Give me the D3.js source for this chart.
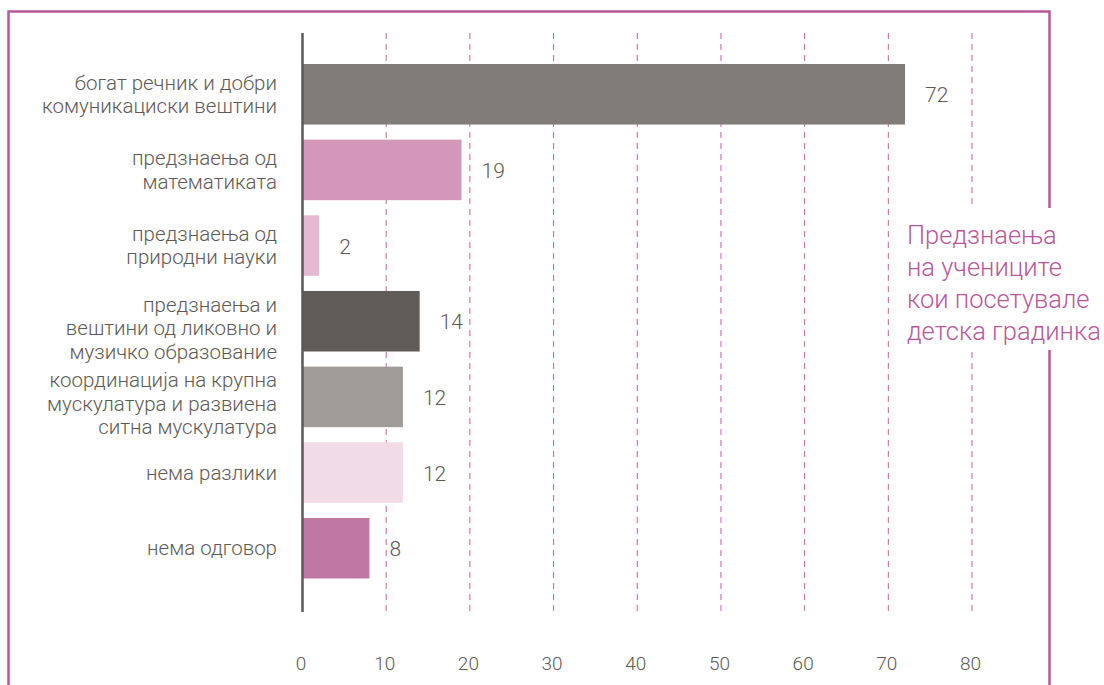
<!DOCTYPE html>
<html><head><meta charset="utf-8">
<script src="https://cdn.jsdelivr.net/npm/d3@7"></script>
<style>html,body{margin:0;padding:0;background:#fff;}svg{display:block;}</style>
</head><body>
<script>
const categories = [
  ["богат речник и добри","комуникациски вештини"],
  ["предзнаења од","математиката"],
  ["предзнаења од","природни науки"],
  ["предзнаења и","вештини од ликовно и","музичко образование"],
  ["координација на крупна","мускулатура и развиена","ситна мускулатура"],
  ["нема разлики"],
  ["нема одговор"]
];
const values = [72, 19, 2, 14, 12, 12, 8];
const barColors = ["#827c79","#d398b9","#e6b9d2","#625c58","#a29c99","#f1dbe7","#c177a4"];
const tickValues = [0,10,20,30,40,50,60,70,80];
const legendLines = ["Предзнаења","на учениците","кои посетувале","детска градинка"];

const W = 1104, H = 685;
const textColor = "#5f5955", pink = "#b8589b";
const font = "Roboto, 'Open Sans', sans-serif";

const svg = d3.select("body").append("svg").attr("width", W).attr("height", H);

// frame
svg.append("rect").attr("x", 8.5).attr("y", 11.5).attr("width", 1041).attr("height", 720)
  .attr("fill", "none").attr("stroke", pink).attr("stroke-width", 2.5);

const x = d3.scaleLinear().domain([0, 80]).range([302.5, 972]);
const ids = categories.map((c, i) => i);
const y = d3.scaleBand().domain(ids).range([64, 578.5]).paddingInner(0.2).paddingOuter(0);

const gTop = 33, gBot = 612;

// gridlines
svg.append("g").selectAll("line").data(tickValues.filter(t => t > 0)).join("line")
  .attr("x1", d => x(d)).attr("x2", d => x(d)).attr("y1", gTop).attr("y2", gBot)
  .attr("stroke", "#c4609f").attr("stroke-width", 1).attr("stroke-dasharray", "6,5");

// tick labels via axis
const axis = d3.axisBottom(x).tickValues(tickValues).tickSize(0).tickPadding(0).tickFormat(d3.format("d"));
const ag = svg.append("g").attr("transform", `translate(0,${670})`).call(axis);
ag.select(".domain").remove();
ag.selectAll("text").attr("dy", 0).attr("dx", -2).attr("fill", textColor)
  .style("font-family", font).style("font-size", "19px").style("font-weight", 300);

// bars
svg.append("g").selectAll("rect").data(values).join("rect")
  .attr("x", x(0)).attr("y", (d, i) => y(i)).attr("width", d => x(d) - x(0))
  .attr("height", y.bandwidth()).attr("fill", (d, i) => barColors[i]);

// value labels
svg.append("g").selectAll("text").data(values).join("text")
  .attr("x", d => x(d) + 20).attr("y", (d, i) => y(i) + y.bandwidth() / 2)
  .attr("dy", "0.38em").attr("fill", textColor)
  .style("font-family", font).style("font-size", "21px").style("font-weight", 300).text(d => d);

// category labels
const lh = 23.5;
const cg = svg.append("g");
categories.forEach((lines, i) => {
  const cy = y(i) + y.bandwidth() / 2;
  const n = lines.length;
  const t = cg.append("text").attr("text-anchor", "end").attr("fill", textColor)
    .style("font-family", font).style("font-size", "20.5px").style("font-weight", 300);
  lines.forEach((ln, j) => {
    t.append("tspan").attr("x", 277).attr("y", cy + (j - (n - 1) / 2) * lh + 7 + (n === 3 ? 7 : 0)).text(ln);
  });
});

// axis line
svg.append("line").attr("x1", x(0)).attr("x2", x(0)).attr("y1", gTop).attr("y2", gBot)
  .attr("stroke", textColor).attr("stroke-width", 2.5);

// legend
svg.append("rect").attr("x", 893).attr("y", 208).attr("width", 211).attr("height", 142).attr("fill", "#fff");
const lt = svg.append("text").attr("fill", pink).style("font-family", font).style("font-size", "25.5px").style("font-weight", 300);
legendLines.forEach((ln, j) => lt.append("tspan").attr("x", 907).attr("y", 244 + j * 32).text(ln));
</script>
</body></html>
